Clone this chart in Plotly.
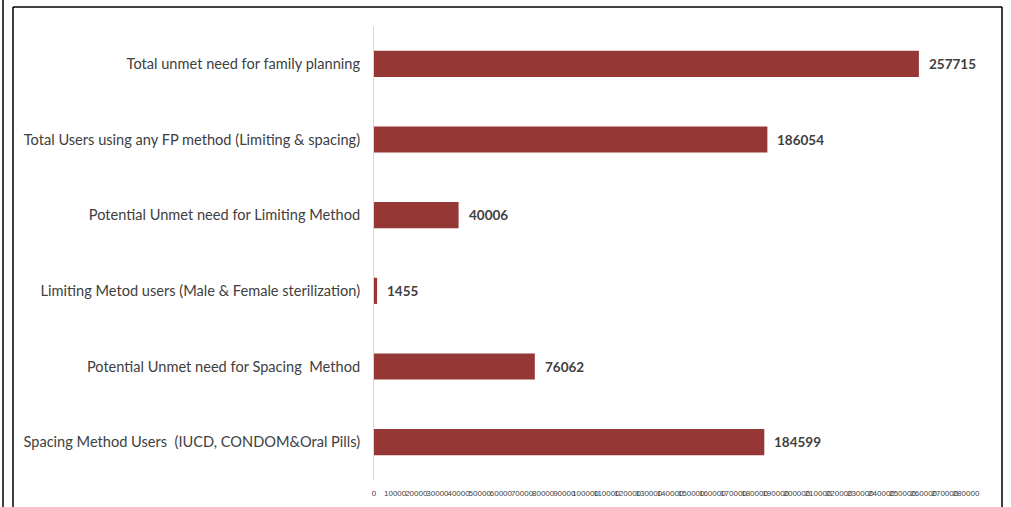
import plotly.graph_objects as go

categories = [
    "Spacing Method Users  (IUCD, CONDOM&Oral Pills)",
    "Potential Unmet need for Spacing  Method",
    "Limiting Metod users (Male & Female sterilization)",
    "Potential Unmet need for Limiting Method",
    "Total Users using any FP method (Limiting & spacing)",
    "Total unmet need for family planning",
]
values = [184599, 76062, 1455, 40006, 186054, 257715]
tick_values = list(range(0, 280001, 10000))
tick_labels = [str(v) for v in tick_values]

BAR = "#953735"
fig = go.Figure()
fig.add_trace(go.Bar(
    y=categories, x=values, orientation="h",
    marker=dict(color=BAR, line=dict(width=0)),
    width=0.345,
    hoverinfo="x+y",
))
for c, v in zip(categories, values):
    fig.add_annotation(x=v, y=c, text=f"<b>{v}</b>", showarrow=False,
                       xanchor="left", xshift=8,
                       font=dict(family="Lato", size=13.5, color="#404040"))

W, H = 1011, 507
L, R, T, B = 374, 45, 26, 27
pw, ph = W - L - R, H - T - B
def px(x): return (x - L) / pw
def py(y): return (H - B - y) / ph

shapes = [
    dict(type="line", xref="paper", yref="paper", x0=px(13), x1=px(13), y0=py(7), y1=py(520), line=dict(color="black", width=1.5)),
    dict(type="line", xref="paper", yref="paper", x0=px(13), x1=px(1002), y0=py(7), y1=py(7), line=dict(color="black", width=1.5)),
    dict(type="line", xref="paper", yref="paper", x0=px(1002), x1=px(1002), y0=py(7), y1=py(520), line=dict(color="black", width=1.5)),
    dict(type="line", xref="paper", yref="paper", x0=px(3), x1=px(3), y0=py(-5), y1=py(520), line=dict(color="black", width=1.5)),
]

fig.update_layout(
    width=W, height=H,
    margin=dict(l=L, r=R, t=T, b=B),
    paper_bgcolor="white", plot_bgcolor="white",
    showlegend=False,
    bargap=0.655,
    shapes=shapes,
    xaxis=dict(range=[0, 280000], tickvals=tick_values, ticktext=tick_labels,
               tickangle=0, showgrid=False, zeroline=False, showline=False,
               tickfont=dict(family="Liberation Sans", size=8, color="#404040"),
               ticks="", ticklabelstandoff=7, automargin=False, fixedrange=True),
    yaxis=dict(showgrid=False, zeroline=False, showline=True, linecolor="#d9d9d9", linewidth=1,
               ticks="", ticklabelstandoff=10, automargin=False,
               tickfont=dict(family="Lato", size=14.6, color="#404040"),
               categoryorder="array", categoryarray=categories),
    font=dict(family="Lato"),
)
fig.write_html("out.html", config={"displayModeBar": False},
               post_script="document.body.style.margin='0';document.body.style.overflow='hidden';")
